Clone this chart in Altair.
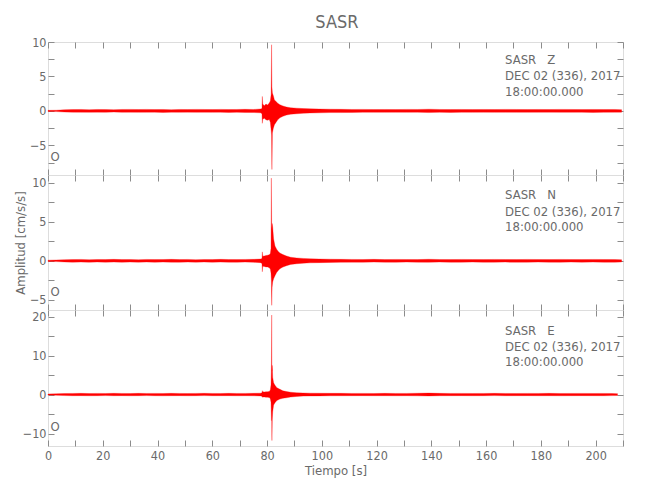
import altair as alt
import pandas as pd

FONT = "Liberation Sans Narrow, DejaVu Sans Condensed, Liberation Sans, sans-serif"
GRAY = "#6a6a6a"
FRAME = "#8c8c8c"
RED = "#ff0000"

X_DOMAIN = [0, 210]
X_TICKS = [0, 10, 20, 30, 40, 50, 60, 70, 80, 90, 100, 110, 120, 130, 140, 150, 160, 170, 180, 190, 200, 210]

# ---------------- Z component (envelope of the trace) ----------------
T_Z = [0, 3, 6, 9, 12, 15, 18, 21, 24, 27, 30, 33, 36, 39, 42, 45, 48, 51, 54, 57, 60, 63, 66, 69, 72, 75,
       77.6, 78.15, 78.28, 78.42, 79.0, 79.6, 80.2, 80.8, 81.2, 81.5, 81.65, 81.78, 81.95, 82.3, 82.7, 83.2,
       83.9, 84.7, 85.8, 87.1, 88.6, 90.8, 93.2, 95.7,
       99, 103, 107, 111, 115, 119, 123, 127, 131, 135, 139, 143, 147, 151, 155, 159, 163, 167, 171, 175,
       179, 183, 187, 191, 195, 199, 203, 207, 209.5]
UP_Z = [0.08, 0.10, 0.17, 0.19, 0.21, 0.18, 0.21, 0.19, 0.18, 0.21, 0.22, 0.20, 0.22, 0.19, 0.21, 0.18,
        0.21, 0.20, 0.22, 0.21, 0.19, 0.22, 0.20, 0.21, 0.23, 0.21,
        0.28, 0.35, 2.10, 1.00, 0.75, 1.00, 0.85, 1.15, 1.45, 2.40, 9.60, 3.50, 2.60, 2.20, 1.60, 1.40,
        1.10, 0.90, 0.72, 0.56, 0.46, 0.40, 0.34, 0.30,
        0.27, 0.25, 0.23, 0.21, 0.22, 0.20, 0.21, 0.19, 0.22, 0.21, 0.25, 0.21, 0.20, 0.21, 0.19, 0.21,
        0.20, 0.22, 0.21, 0.19, 0.21, 0.20, 0.22, 0.21, 0.19, 0.21, 0.20, 0.21, 0.18]
LO_Z = [-0.08, -0.10, -0.16, -0.18, -0.19, -0.21, -0.18, -0.21, -0.17, -0.21, -0.19, -0.21, -0.20, -0.18,
        -0.22, -0.19, -0.21, -0.18, -0.21, -0.20, -0.21, -0.19, -0.22, -0.21, -0.22, -0.23,
        -0.28, -0.40, -1.80, -1.20, -1.05, -1.30, -1.35, -1.25, -1.65, -2.80, -3.50, -8.50, -3.20, -2.50,
        -2.00, -1.70, -1.30, -1.00, -0.78, -0.60, -0.48, -0.41, -0.35, -0.30,
        -0.28, -0.24, -0.24, -0.22, -0.20, -0.21, -0.21, -0.20, -0.21, -0.19, -0.24, -0.21, -0.22, -0.20,
        -0.21, -0.19, -0.21, -0.20, -0.21, -0.21, -0.20, -0.19, -0.21, -0.21, -0.20, -0.22, -0.21, -0.19, -0.18]

# ---------------- N component ----------------
T_N = [0, 3, 6, 9, 12, 15, 18, 21, 24, 27, 30, 33, 36, 39, 42, 45, 48, 51, 54, 57, 60, 63, 66, 69, 72, 75,
       77.6, 78.15, 78.28, 78.42, 79.0, 79.6, 80.2, 80.8, 81.2, 81.45, 81.57, 81.7, 81.85, 82.06, 82.4, 82.9,
       83.5, 84.1, 84.7, 85.8, 87.1, 88.6, 90.8, 93.2, 95.7,
       99, 103, 107, 111, 115, 119, 123, 127, 131, 135, 139, 143, 147, 151, 155, 159, 163, 167, 171, 175,
       179, 183, 187, 191, 195, 199, 203, 207, 209.5]
UP_N = [0.08, 0.11, 0.15, 0.16, 0.18, 0.15, 0.17, 0.16, 0.19, 0.16, 0.17, 0.15, 0.18, 0.16, 0.17, 0.19,
        0.16, 0.18, 0.15, 0.17, 0.16, 0.19, 0.17, 0.16, 0.18, 0.19,
        0.23, 0.30, 1.15, 0.60, 0.62, 0.68, 0.72, 0.78, 0.95, 1.60, 10.60, 4.00, 4.80, 4.30, 2.80, 1.90,
        1.50, 1.20, 1.00, 0.80, 0.62, 0.46, 0.37, 0.31, 0.26,
        0.23, 0.21, 0.19, 0.18, 0.17, 0.19, 0.16, 0.18, 0.17, 0.16, 0.20, 0.17, 0.16, 0.18, 0.17, 0.16,
        0.18, 0.17, 0.16, 0.18, 0.17, 0.16, 0.18, 0.17, 0.16, 0.18, 0.17, 0.16, 0.14]
LO_N = [-0.08, -0.10, -0.14, -0.17, -0.16, -0.18, -0.15, -0.17, -0.16, -0.18, -0.16, -0.17, -0.15, -0.18,
        -0.16, -0.17, -0.18, -0.16, -0.17, -0.15, -0.18, -0.16, -0.17, -0.18, -0.16, -0.19,
        -0.23, -0.35, -1.40, -0.70, -0.72, -0.78, -0.78, -0.88, -1.05, -1.60, -2.50, -5.70, -3.40, -2.70,
        -2.30, -1.90, -1.50, -1.25, -1.00, -0.80, -0.62, -0.46, -0.37, -0.30, -0.26,
        -0.23, -0.21, -0.19, -0.17, -0.18, -0.16, -0.17, -0.18, -0.16, -0.17, -0.19, -0.16, -0.18, -0.17,
        -0.16, -0.18, -0.17, -0.16, -0.18, -0.17, -0.16, -0.17, -0.18, -0.16, -0.17, -0.16, -0.18, -0.17, -0.14]

# ---------------- E component ----------------
T_E = [0, 3, 6, 9, 12, 15, 18, 21, 24, 27, 30, 33, 36, 39, 42, 45, 48, 51, 54, 57, 60, 63, 66, 69, 72, 75,
       77.6, 78.15, 78.28, 78.42, 79.0, 79.6, 80.2, 80.8, 81.2, 81.45, 81.6, 81.69, 81.78, 81.9, 82.06, 82.4,
       82.9, 83.6, 84.7, 85.8, 87.1, 88.6, 90.8, 93.2, 95.7,
       99, 103, 107, 111, 115, 119, 123, 127, 131, 135, 139, 143, 147, 151, 155, 159, 163, 167, 171, 175,
       179, 183, 187, 191, 195, 199, 203, 206, 208]
UP_E = [0.14, 0.20, 0.27, 0.29, 0.31, 0.27, 0.30, 0.28, 0.32, 0.29, 0.27, 0.31, 0.29, 0.30, 0.28, 0.31,
        0.29, 0.27, 0.30, 0.32, 0.29, 0.28, 0.31, 0.29, 0.30, 0.32,
        0.36, 0.46, 1.00, 0.70, 0.66, 0.70, 0.75, 0.80, 1.15, 2.50, 7.90, 20.40, 6.00, 7.50, 4.40, 3.00,
        2.40, 1.75, 1.35, 0.95, 0.78, 0.60, 0.46, 0.40, 0.36,
        0.34, 0.32, 0.31, 0.29, 0.30, 0.28, 0.31, 0.29, 0.30, 0.34, 0.38, 0.31, 0.29, 0.30, 0.28, 0.29,
        0.31, 0.29, 0.28, 0.30, 0.29, 0.31, 0.28, 0.29, 0.30, 0.28, 0.29, 0.27, 0.24]
LO_E = [-0.14, -0.19, -0.26, -0.30, -0.28, -0.31, -0.29, -0.27, -0.30, -0.28, -0.31, -0.29, -0.27, -0.30,
        -0.32, -0.29, -0.28, -0.31, -0.29, -0.27, -0.30, -0.29, -0.28, -0.31, -0.29, -0.31,
        -0.36, -0.42, -0.70, -0.63, -0.64, -0.66, -0.70, -0.76, -1.05, -2.00, -6.70, -4.00, -11.80, -6.50,
        -4.40, -2.70, -2.10, -1.50, -1.15, -0.95, -0.82, -0.64, -0.48, -0.40, -0.36,
        -0.34, -0.31, -0.30, -0.29, -0.28, -0.30, -0.29, -0.31, -0.29, -0.33, -0.36, -0.30, -0.29, -0.28,
        -0.30, -0.29, -0.27, -0.30, -0.29, -0.28, -0.30, -0.29, -0.31, -0.29, -0.28, -0.29, -0.30, -0.27, -0.24]

Y_DOM_Z = [-9.3, 10.0]
Y_DOM_N = [-6.3, 11.0]
Y_DOM_E = [-13.2, 21.7]
Y_TICKS_Z = [-7.5, -5, -2.5, 0, 2.5, 5, 7.5, 10]
Y_TICKS_N = [-5, -2.5, 0, 2.5, 5, 7.5, 10]
Y_TICKS_E = [-10, -5, 0, 5, 10, 15, 20]

HEADER_Z = ["SASR\u00a0\u00a0\u00a0Z", "DEC 02 (336), 2017", "18:00:00.000"]
HEADER_N = ["SASR\u00a0\u00a0\u00a0N", "DEC 02 (336), 2017", "18:00:00.000"]
HEADER_E = ["SASR\u00a0\u00a0\u00a0E", "DEC 02 (336), 2017", "18:00:00.000"]
ORIGIN_MARK = "O"

W = 575


def axis_common():
    return dict(domain=False, grid=False, tickColor=FRAME, tickSize=6, tickWidth=1, offset=-6,
                labelFont=FONT, labelFontSize=12.5, labelColor=GRAY, titleFont=FONT, titleFontSize=13,
                titleColor=GRAY, titleFontWeight="normal", labelFlush=False, labelOverlap=False)


def panel(t, up, lo, ydom, yticks, ystep, header, header_y, o_y, height, bottom_labels, ytitle):
    df = pd.DataFrame({"t": t, "up": up, "lo": lo})
    xs = alt.Scale(domain=X_DOMAIN, nice=False, zero=False)
    ys = alt.Scale(domain=ydom, nice=False, zero=False)

    xb = dict(orient="bottom", values=X_TICKS, labels=bottom_labels, labelPadding=3, titlePadding=3,
              labelExpr="datum.value % 20 === 0 ? datum.label : ''", title=None, **axis_common())
    if bottom_labels:
        xb["title"] = "Tiempo [s]"
    yl = dict(orient="left", values=yticks, labelPadding=2, titlePadding=2,
              labelExpr=f"datum.value % {ystep} === 0 ? datum.label : ''", title=None, **axis_common())
    if ytitle:
        yl["title"] = ytitle

    main = alt.Chart(df).mark_area(color=RED, stroke=RED, strokeWidth=0.3, opacity=1).encode(
        x=alt.X("t:Q", scale=xs, axis=alt.Axis(**xb)),
        y=alt.Y("up:Q", scale=ys, axis=alt.Axis(**yl)),
        y2="lo:Q",
    )
    ghost = alt.Chart(df).mark_area(opacity=0).encode(
        x=alt.X("t:Q", scale=xs, axis=alt.Axis(orient="top", values=X_TICKS, labels=False, title=None,
                                               **axis_common())),
        y=alt.Y("up:Q", scale=ys, axis=alt.Axis(orient="right", values=yticks, labels=False, title=None,
                                                **axis_common())),
        y2="lo:Q",
    )
    layers = [main, ghost]
    for line, yy in zip(header, header_y):
        layers.append(
            alt.Chart(pd.DataFrame({"s": [line]})).mark_text(
                align="left", baseline="middle", font=FONT, fontSize=13, color=GRAY
            ).encode(x=alt.value(457), y=alt.value(yy), text="s:N")
        )
    layers.append(
        alt.Chart(pd.DataFrame({"s": [ORIGIN_MARK]})).mark_text(
            align="center", baseline="middle", font=FONT, fontSize=13, color=GRAY
        ).encode(x=alt.value(7), y=alt.value(o_y), text="s:N")
    )
    return alt.layer(*layers).resolve_axis(x="independent", y="independent").properties(width=W, height=height)


pz = panel(T_Z, UP_Z, LO_Z, Y_DOM_Z, Y_TICKS_Z, 5, HEADER_Z, [17.5, 33.5, 49.5], 115, 133, False, None)
pn = panel(T_N, UP_N, LO_N, Y_DOM_N, Y_TICKS_N, 5, HEADER_N, [20, 36.5, 52], 117, 135, False,
           "Amplitud [cm/s/s]")
pe = panel(T_E, UP_E, LO_E, Y_DOM_E, Y_TICKS_E, 10, HEADER_E, [21, 37, 52], 117, 136, True, None)

chart = alt.vconcat(pz, pn, pe, spacing=0, bounds="flush").properties(
    title=alt.TitleParams("SASR", font=FONT, fontSize=18, color=GRAY, fontWeight="normal",
                          anchor="middle", offset=4, dx=18),
    padding={"left": 5, "top": 5, "right": 5, "bottom": 5},
).configure_view(stroke=FRAME, strokeWidth=1).configure(background="white")

chart.save("out.html", embed_options={"renderer": "svg", "actions": False})
